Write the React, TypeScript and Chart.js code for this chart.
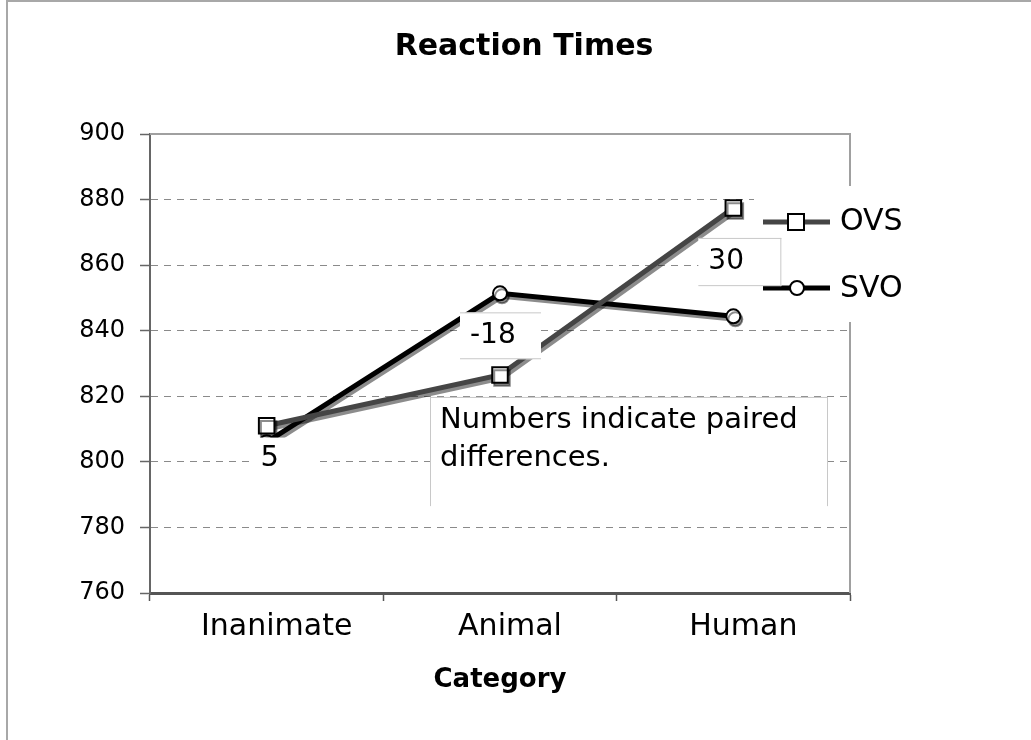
import React, { useEffect, useRef } from "react";
import { Chart, registerables } from "chart.js";

Chart.register(...registerables);

const titleText = "Reaction Times";
const xAxisTitle = "Category";
const categories = ["Inanimate", "Animal", "Human"];
const seriesNames = ["OVS", "SVO"];
const ovsValues = [811, 826.5, 877.4];
const svoValues = [806, 851.4, 844.4];
const yMin = 760;
const yMax = 900;
const yStep = 20;
const diffLabels = ["5", "-18", "30"];
const noteLines = ["Numbers indicate paired", "differences."];

const FONT = "'DejaVu Sans', Verdana, sans-serif";

const shadowPlugin = {
  id: "lineShadow",
  beforeDatasetDraw(chart: any) {
    const ctx = chart.ctx;
    ctx.save();
    ctx.shadowColor = "rgba(0,0,0,0.45)";
    ctx.shadowOffsetX = 2;
    ctx.shadowOffsetY = 3;
    ctx.shadowBlur = 0;
  },
  afterDatasetDraw(chart: any) {
    chart.ctx.restore();
  },
};

const framePlugin = {
  id: "frame",
  beforeDraw(chart: any) {
    const ctx = chart.ctx;
    ctx.save();
    ctx.fillStyle = "#ffffff";
    ctx.fillRect(0, 0, chart.width, chart.height);
    ctx.strokeStyle = "#a8a8a8";
    ctx.lineWidth = 2;
    ctx.strokeRect(7, 1, chart.width + 40, chart.height + 40);
    // chart title, centred on the outer frame
    ctx.fillStyle = "#000000";
    ctx.font = `bold 30px ${FONT}`;
    ctx.textAlign = "center";
    ctx.textBaseline = "middle";
    ctx.fillText(titleText, 524, 47);
    ctx.restore();
  },
  beforeDatasetsDraw(chart: any) {
    const { ctx, chartArea: a } = chart;
    ctx.save();
    ctx.strokeStyle = "#a0a0a0";
    ctx.lineWidth = 2;
    ctx.beginPath();
    ctx.moveTo(a.left, a.top);
    ctx.lineTo(a.right, a.top);
    ctx.lineTo(a.right, a.bottom);
    ctx.stroke();
    ctx.restore();
  },
};

const overlayPlugin = {
  id: "overlay",
  afterDatasetsDraw(chart: any) {
    const { ctx, chartArea: a } = chart;
    const xs = chart.scales.x;
    const ys = chart.scales.y;
    ctx.save();

    // legend background
    ctx.fillStyle = "#ffffff";
    ctx.fillRect(a.right - 96, 186, 180, 136);

    const legendX0 = a.right - 87;
    const legendX1 = a.right - 20;
    const rows = [222, 288];
    // OVS legend row
    ctx.lineWidth = 5;
    ctx.strokeStyle = "#454545";
    ctx.beginPath();
    ctx.moveTo(legendX0, rows[0]);
    ctx.lineTo(legendX1, rows[0]);
    ctx.stroke();
    ctx.fillStyle = "#ffffff";
    ctx.strokeStyle = "#000000";
    ctx.lineWidth = 2;
    ctx.fillRect(a.right - 62, rows[0] - 8, 16, 16);
    ctx.strokeRect(a.right - 62, rows[0] - 8, 16, 16);
    // SVO legend row
    ctx.lineWidth = 5;
    ctx.strokeStyle = "#000000";
    ctx.beginPath();
    ctx.moveTo(legendX0, rows[1]);
    ctx.lineTo(legendX1, rows[1]);
    ctx.stroke();
    ctx.lineWidth = 2;
    ctx.beginPath();
    ctx.arc(a.right - 53, rows[1], 7, 0, Math.PI * 2);
    ctx.fillStyle = "#ffffff";
    ctx.fill();
    ctx.stroke();

    ctx.fillStyle = "#000000";
    ctx.font = `30px ${FONT}`;
    ctx.textAlign = "left";
    ctx.textBaseline = "middle";
    ctx.fillText(seriesNames[0], a.right - 10, rows[0]);
    ctx.fillText(seriesNames[1], a.right - 10, rows[1] + 1);

    // label boxes
    const boxStroke = "#c8c8c8";
    const drawBox = (
      x0: number, y0: number, x1: number, y1: number,
      sides: { t?: boolean; r?: boolean; b?: boolean; l?: boolean }
    ) => {
      ctx.fillStyle = "#ffffff";
      ctx.fillRect(x0, y0, x1 - x0, y1 - y0);
      ctx.strokeStyle = boxStroke;
      ctx.lineWidth = 1;
      ctx.beginPath();
      if (sides.t) { ctx.moveTo(x0, y0 + 0.5); ctx.lineTo(x1, y0 + 0.5); }
      if (sides.b) { ctx.moveTo(x0, y1 - 0.5); ctx.lineTo(x1, y1 - 0.5); }
      if (sides.l) { ctx.moveTo(x0 + 0.5, y0); ctx.lineTo(x0 + 0.5, y1); }
      if (sides.r) { ctx.moveTo(x1 - 0.5, y0); ctx.lineTo(x1 - 0.5, y1); }
      ctx.stroke();
    };

    // "5" near Inanimate
    const c0 = xs.getPixelForValue(0);
    const y5 = ys.getPixelForValue(801);
    drawBox(c0 - 13, y5 - 21, c0 + 51, y5 + 23, {});
    ctx.fillStyle = "#000000";
    ctx.font = `29px ${FONT}`;
    ctx.textAlign = "center";
    ctx.textBaseline = "middle";
    ctx.fillText(diffLabels[0], c0 + 3, y5);

    // "-18" near Animal
    const c1 = xs.getPixelForValue(1);
    const yA0 = ys.getPixelForValue(845.6);
    const yA1 = ys.getPixelForValue(831.3);
    drawBox(c1 - 40, yA0, c1 + 41, yA1, { t: true, b: true });
    ctx.fillStyle = "#000000";
    ctx.font = `28px ${FONT}`;
    ctx.textAlign = "left";
    ctx.fillText(diffLabels[1], c1 - 30, (yA0 + yA1) / 2);

    // "30" near Human
    const c2 = xs.getPixelForValue(2);
    const yH0 = ys.getPixelForValue(868.3);
    const yH1 = ys.getPixelForValue(853.6);
    drawBox(c2 - 35, yH0, c2 + 48, yH1, { t: true, r: true, b: true });
    ctx.fillStyle = "#000000";
    ctx.fillText(diffLabels[2], c2 - 25, (yH0 + yH1) / 2);

    // note box
    const nTop = ys.getPixelForValue(819.8);
    const nBot = ys.getPixelForValue(786.5);
    drawBox(c1 - 70, nTop, a.right - 22, nBot, { t: true, l: true, r: true });
    ctx.fillStyle = "#000000";
    ctx.font = `29px ${FONT}`;
    ctx.textAlign = "left";
    ctx.textBaseline = "alphabetic";
    ctx.fillText(noteLines[0], c1 - 60, nTop + 31);
    ctx.fillText(noteLines[1], c1 - 60, nTop + 69);

    ctx.restore();
  },
};

export default function App() {
  const ref = useRef<HTMLCanvasElement | null>(null);

  useEffect(() => {
    if (!ref.current) return;
    Chart.defaults.font.family = FONT;
    const chart = new Chart(ref.current, {
      type: "line",
      data: {
        labels: categories,
        datasets: [
          {
            label: seriesNames[0],
            data: ovsValues,
            borderColor: "#454545",
            borderWidth: 5,
            pointStyle: "rect",
            pointRadius: 11,
            pointBackgroundColor: "#ffffff",
            pointBorderColor: "#000000",
            pointBorderWidth: 2,
            tension: 0,
          },
          {
            label: seriesNames[1],
            data: svoValues,
            borderColor: "#000000",
            borderWidth: 5,
            pointStyle: "circle",
            pointRadius: 7,
            pointBackgroundColor: "#ffffff",
            pointBorderColor: "#000000",
            pointBorderWidth: 2,
            tension: 0,
          },
        ],
      },
      options: {
        responsive: false,
        animation: false,
        layout: { padding: { left: 0, right: 181, top: 134, bottom: 0 } },
        plugins: {
          legend: { display: false },
          tooltip: { enabled: false },
          title: { display: false },
        },
        scales: {
          x: {
            type: "category",
            offset: true,
            grid: {
              display: true,
              drawOnChartArea: false,
              drawTicks: true,
              tickLength: 8,
              offset: true,
              color: "#555555",
              tickColor: "#555555",
              tickWidth: 1.5,
            },
            border: { display: true, color: "#555555", width: 3 },
            ticks: {
              color: "#000000",
              font: { family: FONT, size: 30 },
              padding: 8,
              maxRotation: 0,
              labelOffset: 10,
            },
            title: {
              display: true,
              text: xAxisTitle,
              color: "#000000",
              font: { family: FONT, size: 26, weight: "bold" },
              padding: { top: 0, bottom: 44 },
            },
            afterFit: (scale: any) => {
              scale.height = 147;
            },
          },
          y: {
            min: yMin,
            max: yMax,
            ticks: {
              stepSize: yStep,
              color: "#000000",
              font: { family: FONT, size: 24 },
              padding: 15,
            },
            grid: {
              color: (c: any) =>
                c.tick && (c.tick.value === yMax || c.tick.value === yMin)
                  ? "rgba(0,0,0,0)"
                  : "#8a8a8a",
              lineWidth: 1,
              tickLength: 10,
              tickColor: "#666666",
              tickWidth: 1.5,
              tickBorderDash: [],
            },
            border: { display: true, color: "#666666", width: 2, dash: [7, 6] },
            afterFit: (scale: any) => {
              scale.width = 150;
            },
          },
        },
      },
      plugins: [framePlugin, shadowPlugin, overlayPlugin],
    });
    return () => chart.destroy();
  }, []);

  return (
    <div style={{ position: "fixed", left: 0, top: 0, width: 1031, height: 740, background: "#fff" }}>
      <canvas ref={ref} width={1031} height={740} />
    </div>
  );
}
